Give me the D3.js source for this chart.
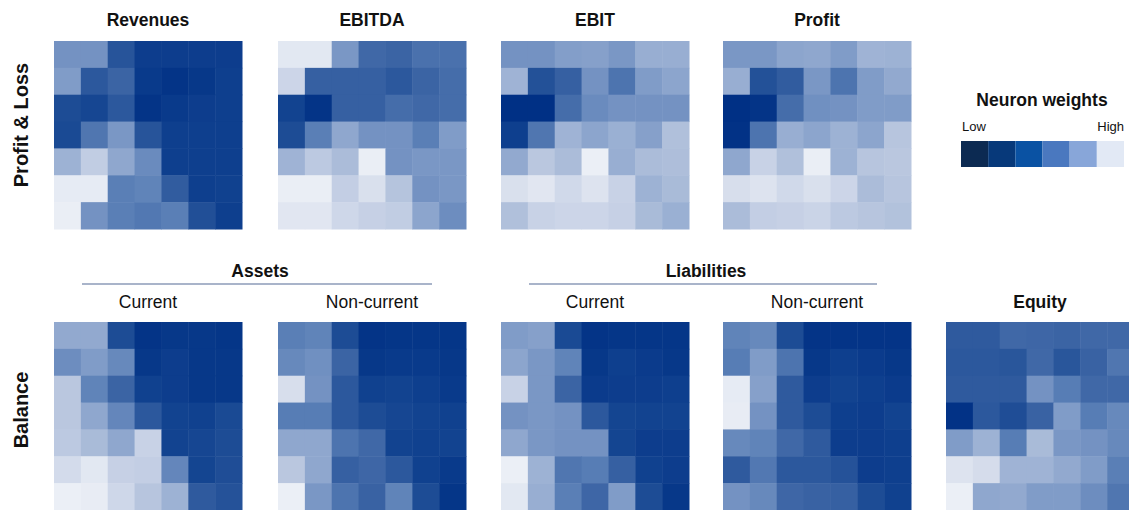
<!DOCTYPE html>
<html>
<head>
<meta charset="utf-8">
<script src="https://cdn.jsdelivr.net/npm/d3@7"></script>
<style>
  html, body { margin: 0; padding: 0; background: #fff; }
  svg { display: block; font-family: "Liberation Sans", Arial, sans-serif; }
</style>
</head>
<body>
<svg id="chart" width="1129" height="510"></svg>
<script>
// Self-organising map: normalised neuron weights (0 = low, 1 = high), 7 x 7 grid per variable
const revenues = [
  [0.48, 0.48, 0.20, 0.07, 0.07, 0.07, 0.07],
  [0.52, 0.22, 0.28, 0.05, 0.02, 0.04, 0.08],
  [0.15, 0.12, 0.22, 0.02, 0.05, 0.07, 0.08],
  [0.14, 0.36, 0.50, 0.20, 0.08, 0.08, 0.08],
  [0.62, 0.77, 0.57, 0.45, 0.08, 0.08, 0.08],
  [0.95, 0.95, 0.40, 0.42, 0.24, 0.08, 0.09],
  [0.97, 0.48, 0.40, 0.37, 0.40, 0.17, 0.08]
];
const ebitda = [
  [0.93, 0.93, 0.50, 0.30, 0.28, 0.34, 0.34],
  [0.82, 0.26, 0.26, 0.26, 0.22, 0.28, 0.32],
  [0.10, 0.02, 0.26, 0.26, 0.32, 0.30, 0.32],
  [0.15, 0.40, 0.57, 0.48, 0.48, 0.40, 0.52],
  [0.63, 0.75, 0.68, 0.97, 0.48, 0.50, 0.50],
  [0.97, 0.97, 0.78, 0.88, 0.72, 0.48, 0.50],
  [0.92, 0.92, 0.83, 0.79, 0.77, 0.56, 0.46]
];
const ebit = [
  [0.48, 0.48, 0.53, 0.54, 0.50, 0.60, 0.60],
  [0.63, 0.18, 0.26, 0.48, 0.35, 0.52, 0.56],
  [0.00, 0.00, 0.32, 0.45, 0.48, 0.48, 0.48],
  [0.08, 0.36, 0.63, 0.56, 0.61, 0.54, 0.70],
  [0.58, 0.74, 0.68, 0.98, 0.60, 0.68, 0.69],
  [0.88, 0.92, 0.84, 0.90, 0.80, 0.62, 0.67],
  [0.70, 0.80, 0.82, 0.82, 0.79, 0.67, 0.61]
];
const profit = [
  [0.50, 0.50, 0.56, 0.57, 0.52, 0.63, 0.62],
  [0.60, 0.18, 0.24, 0.50, 0.35, 0.52, 0.58],
  [0.00, 0.02, 0.32, 0.47, 0.48, 0.52, 0.52],
  [0.01, 0.35, 0.60, 0.56, 0.62, 0.56, 0.73],
  [0.57, 0.80, 0.70, 0.97, 0.62, 0.73, 0.74],
  [0.87, 0.90, 0.84, 0.88, 0.82, 0.68, 0.73],
  [0.68, 0.78, 0.79, 0.81, 0.75, 0.73, 0.71]
];
const assetsCurrent = [
  [0.58, 0.58, 0.15, 0.02, 0.04, 0.04, 0.03],
  [0.46, 0.52, 0.44, 0.04, 0.07, 0.04, 0.04],
  [0.74, 0.42, 0.28, 0.09, 0.07, 0.04, 0.04],
  [0.74, 0.57, 0.43, 0.22, 0.10, 0.09, 0.14],
  [0.75, 0.67, 0.57, 0.80, 0.10, 0.12, 0.15],
  [0.85, 0.93, 0.79, 0.78, 0.43, 0.11, 0.16],
  [0.98, 0.96, 0.83, 0.73, 0.62, 0.23, 0.19]
];
const assetsNonCurrent = [
  [0.40, 0.42, 0.15, 0.02, 0.03, 0.03, 0.03],
  [0.44, 0.47, 0.28, 0.04, 0.05, 0.05, 0.04],
  [0.87, 0.48, 0.22, 0.09, 0.10, 0.08, 0.05],
  [0.39, 0.39, 0.22, 0.15, 0.12, 0.10, 0.09],
  [0.57, 0.57, 0.35, 0.30, 0.10, 0.09, 0.10],
  [0.74, 0.57, 0.26, 0.29, 0.22, 0.09, 0.05],
  [0.98, 0.50, 0.35, 0.27, 0.42, 0.15, 0.03]
];
const liabilitiesCurrent = [
  [0.52, 0.54, 0.14, 0.02, 0.03, 0.03, 0.03],
  [0.56, 0.50, 0.42, 0.04, 0.08, 0.06, 0.04],
  [0.80, 0.50, 0.28, 0.06, 0.07, 0.07, 0.08],
  [0.48, 0.50, 0.48, 0.22, 0.11, 0.10, 0.10],
  [0.57, 0.50, 0.48, 0.48, 0.11, 0.07, 0.07],
  [0.98, 0.62, 0.36, 0.39, 0.26, 0.09, 0.07],
  [0.93, 0.60, 0.40, 0.29, 0.52, 0.15, 0.04]
];
const liabilitiesNonCurrent = [
  [0.42, 0.44, 0.15, 0.02, 0.02, 0.02, 0.02],
  [0.39, 0.52, 0.35, 0.04, 0.08, 0.06, 0.04],
  [0.95, 0.54, 0.23, 0.07, 0.10, 0.08, 0.06],
  [0.96, 0.48, 0.23, 0.15, 0.08, 0.07, 0.10],
  [0.44, 0.42, 0.30, 0.23, 0.07, 0.07, 0.08],
  [0.23, 0.37, 0.22, 0.22, 0.19, 0.07, 0.08],
  [0.48, 0.44, 0.29, 0.27, 0.26, 0.15, 0.09]
];
const equity = [
  [0.23, 0.23, 0.30, 0.29, 0.28, 0.30, 0.30],
  [0.22, 0.22, 0.21, 0.30, 0.21, 0.27, 0.36],
  [0.23, 0.23, 0.23, 0.48, 0.39, 0.30, 0.30],
  [0.01, 0.22, 0.16, 0.27, 0.52, 0.39, 0.44],
  [0.52, 0.62, 0.39, 0.67, 0.50, 0.48, 0.44],
  [0.90, 0.86, 0.63, 0.63, 0.58, 0.52, 0.40],
  [0.98, 0.57, 0.58, 0.52, 0.52, 0.46, 0.36]
];

const plTitles = ["Revenues", "EBITDA", "EBIT", "Profit"];
const plGrids = [revenues, ebitda, ebit, profit];
const balanceTitles = ["Current", "Non-current", "Current", "Non-current", "Equity"];
const balanceGrids = [assetsCurrent, assetsNonCurrent, liabilitiesCurrent, liabilitiesNonCurrent, equity];
const groupTitles = ["Assets", "Liabilities"];
const rowTitles = ["Profit & Loss", "Balance"];
const legendTitle = "Neuron weights";
const legendEnds = ["Low", "High"];

// Colour ramps
const cellColours = ["#003085", "#124390", "#27549a", "#4068a7", "#5a7fb6", "#7a97c5",
                     "#98aed2", "#b0c0db", "#c8d2e6", "#dde3ef", "#eff2f8"];
const legendColours = ["#0c2a52", "#07397a", "#0a52a3", "#4a78bf", "#88a6d9", "#e2e9f5"];

const svg = d3.select("#chart");
const colour = d3.scaleLinear()
  .domain(d3.range(cellColours.length).map(i => i / (cellColours.length - 1)))
  .range(cellColours)
  .interpolate(d3.interpolateRgb);

const size = 188;
const idx = d3.range(7);
const band = d3.scaleBand().domain(idx).range([0, size]);
const panelX = [54, 278, 501, 723, 946];
const rowY = [41, 322];

function heatmap(grid, x0, y0) {
  const g = svg.append("g").attr("transform", `translate(${x0},${y0})`);
  const cells = grid.flatMap((row, r) => row.map((v, c) => ({ r, c, v })));
  g.selectAll("rect").data(cells).join("rect")
    .attr("x", d => band(d.c))
    .attr("y", d => band(d.r))
    .attr("width", band.bandwidth() + 0.5)
    .attr("height", band.bandwidth() + 0.5)
    .attr("fill", d => colour(d.v));
}

const bold = s => s.attr("font-weight", "bold").attr("fill", "#111");

// Profit & Loss row
plGrids.forEach((grid, i) => {
  heatmap(grid, panelX[i], rowY[0]);
  svg.append("text").text(plTitles[i])
    .attr("x", panelX[i] + size / 2).attr("y", 26)
    .attr("text-anchor", "middle").attr("font-size", 17.5).call(bold);
});

// Balance row
balanceGrids.forEach((grid, i) => {
  heatmap(grid, panelX[i], rowY[1]);
  const t = svg.append("text").text(balanceTitles[i])
    .attr("x", panelX[i] + size / 2).attr("y", 308)
    .attr("text-anchor", "middle").attr("font-size", 17.5).attr("fill", "#111");
  if (i === 4) t.attr("font-weight", "bold");
});

// Group headers with rule lines
groupTitles.forEach((name, i) => {
  const left = panelX[i * 2] + size / 2 - 66;
  const right = panelX[i * 2 + 1] + size / 2 + 60;
  svg.append("line")
    .attr("x1", left).attr("x2", right).attr("y1", 284).attr("y2", 284)
    .attr("stroke", "#8d9bb8").attr("stroke-width", 1.5);
  svg.append("text").text(name)
    .attr("x", (panelX[i * 2] + panelX[i * 2 + 1] + size) / 2).attr("y", 277)
    .attr("text-anchor", "middle").attr("font-size", 17.5).call(bold);
});

// Row labels
[125, 410].forEach((cy, i) => {
  svg.append("text").text(rowTitles[i])
    .attr("transform", `translate(28,${cy}) rotate(-90)`)
    .attr("text-anchor", "middle").attr("font-size", 20).call(bold);
});

// Legend
const lg = svg.append("g");
lg.append("text").text(legendTitle)
  .attr("x", 1042).attr("y", 106).attr("text-anchor", "middle")
  .attr("font-size", 17.5).call(bold);
lg.append("text").text(legendEnds[0]).attr("x", 962).attr("y", 131)
  .attr("font-size", 13).attr("fill", "#111");
lg.append("text").text(legendEnds[1]).attr("x", 1124).attr("y", 131)
  .attr("text-anchor", "end").attr("font-size", 13).attr("fill", "#111");
const lx = d3.scaleBand().domain(d3.range(legendColours.length)).range([961, 1124]);
lg.selectAll("rect").data(legendColours).join("rect")
  .attr("x", (d, i) => lx(i)).attr("y", 141)
  .attr("width", lx.bandwidth()).attr("height", 26)
  .attr("fill", d => d);
</script>
</body>
</html>
